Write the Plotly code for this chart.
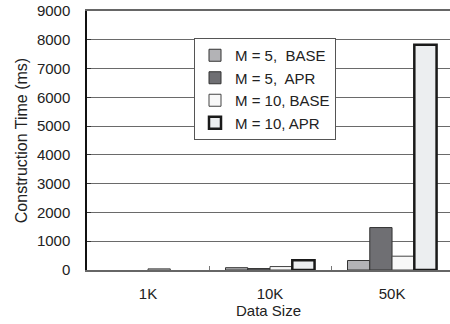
import plotly.graph_objects as go

categories = ["1K", "10K", "50K"]
series_names = ["M = 5,\u00a0 BASE", "M = 5,\u00a0 APR", "M = 10, BASE", "M = 10, APR"]
m5_base = [None, 80, 330]
m5_apr = [None, 50, 1475]
m10_base = [40, 120, 480]
m10_apr = [None, 340, 7830]
y_ticks = [0, 1000, 2000, 3000, 4000, 5000, 6000, 7000, 8000, 9000]

series_values = [m5_base, m5_apr, m10_base, m10_apr]
fills = ["#b3b3b6", "#6f6f73", "#f8f8f8", "#eceef0"]
line_colors = ["#333333", "#333333", "#444444", "#1a1a1a"]
line_widths = [1, 1, 1, 2.5]

fig = go.Figure()
for i, (name, vals, fc, lc, lw) in enumerate(zip(series_names, series_values, fills, line_colors, line_widths)):
    fig.add_trace(go.Bar(
        x=categories, y=vals, name=name, legendgroup=f"g{i}",
        marker=dict(color=fc, line=dict(color=lc, width=lw)),
    ))

font_family = "Liberation Sans, Arial, sans-serif"
fig.update_layout(
    width=450, height=324,
    margin=dict(l=87, r=0, t=11, b=54),
    paper_bgcolor="white", plot_bgcolor="white",
    barmode="group", bargap=0.27, bargroupgap=0,
    font=dict(family=font_family, size=15, color="#222222"),
    showlegend=True,
    legend=dict(
        x=(194 - 87) / 363, y=(270 - 38) / 259, xanchor="left", yanchor="top",
        bgcolor="white", bordercolor="#555555", borderwidth=1,
        font=dict(size=15, color="#222222"),
        traceorder="normal", tracegroupgap=3,
    ),
    xaxis=dict(
        range=[-0.5, 2.475], automargin=False,
        showline=True, mirror=True, linecolor="#666666", linewidth=1.5,
        ticks="inside", tickson="boundaries", ticklen=4, tickcolor="#777777",
        showgrid=False,
        tickfont=dict(size=15),
        ticklabelstandoff=9,
        title=dict(text="Data Size", font=dict(size=15), standoff=0),
    ),
    yaxis=dict(
        range=[0, 9000], tickvals=y_ticks, automargin=False,
        showline=True, linecolor="#111111", linewidth=1.5,
        ticks="inside", ticklen=4, tickcolor="#333333",
        showgrid=True, gridcolor="#6a6a6a", gridwidth=1,
        zeroline=False,
        tickfont=dict(size=15),
        ticklabelstandoff=12, ticklabeloverflow="allow",
        title=dict(text="Construction Time (ms)", font=dict(size=16), standoff=5),
    ),
)

# remove the browser's default 8px page margin so the figure fills the window
fig.write_html(
    "out.html",
    config={"displayModeBar": False},
    post_script="document.body.style.margin='0';document.body.style.overflow='hidden';",
)
